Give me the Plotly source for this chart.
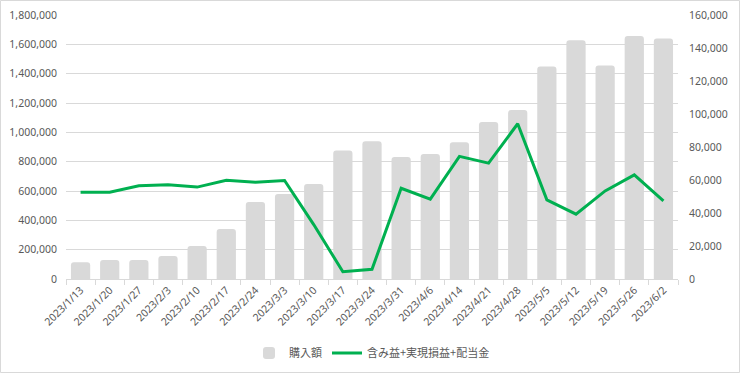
import plotly.graph_objects as go

dates = ["2023/1/13", "2023/1/20", "2023/1/27", "2023/2/3", "2023/2/10", "2023/2/17",
         "2023/2/24", "2023/3/3", "2023/3/10", "2023/3/17", "2023/3/24", "2023/3/31",
         "2023/4/6", "2023/4/14", "2023/4/21", "2023/4/28", "2023/5/5", "2023/5/12",
         "2023/5/19", "2023/5/26", "2023/6/2"]

purchase = [114000, 130000, 130000, 157000, 225000, 341000, 525000, 580000, 648000,
            876000, 940000, 831000, 853000, 933000, 1070000, 1152000, 1449000,
            1627000, 1456000, 1657000, 1640000]

profit = [52600, 52600, 56500, 57100, 55700, 59900, 58700, 59700, 33000, 4400, 5900,
          55000, 48400, 74300, 70200, 94100, 48000, 39300, 53400, 63100, 47400]

bar_name = "購入額"
line_name = "含み益+実現損益+配当金"

W, H = 740, 373
L, R, T, B = 66, 62, 15, 94
pw, ph = W - L - R, H - T - B

label_color = "#595959"
grid_color = "#d9d9d9"
tick_font = dict(family="Noto Sans, Noto Sans CJK JP", size=10.5, color=label_color)

fig = go.Figure()
fig.add_trace(go.Bar(x=dates, y=purchase, name=bar_name,
                     marker=dict(color="#d9d9d9", line=dict(width=0), cornerradius=3),
                     yaxis="y"))
fig.add_trace(go.Scatter(x=dates, y=profit, name=line_name, mode="lines",
                         line=dict(color="#00b050", width=3), yaxis="y2"))

fig.update_layout(
    width=W, height=H,
    margin=dict(l=L, r=R, t=T, b=B, autoexpand=False),
    paper_bgcolor="white", plot_bgcolor="white",
    bargap=0.34,
    showlegend=True,
    legend=dict(orientation="h", x=0.5, xanchor="center",
                yref="container", y=1 - 353 / H, yanchor="middle",
                font=dict(family="Noto Sans CJK JP", size=11, color=label_color),
                traceorder="normal", itemwidth=30),
    xaxis=dict(type="category", tickangle=-45, tickfont=tick_font, automargin=False,
               showline=True, linecolor=grid_color, linewidth=1,
               ticks="outside", tickson="boundaries", ticklen=5, tickcolor=grid_color,
               showgrid=False, zeroline=False),
    yaxis=dict(range=[0, 1800000], dtick=200000, tickformat=",d", automargin=False,
               showgrid=True, gridcolor=grid_color, gridwidth=1,
               zeroline=False, showline=False, ticks="",
               tickfont=tick_font, ticklabelstandoff=8),
    yaxis2=dict(range=[0, 160000], dtick=20000, tickformat=",d", overlaying="y",
                automargin=False,
                side="right", showgrid=False, zeroline=False, showline=False,
                ticks="", tickfont=tick_font, ticklabelstandoff=10),
    shapes=[dict(type="rect", xref="paper", yref="paper",
                 x0=(0.5 - L) / pw, x1=(W - 0.5 - L) / pw,
                 y0=(T + ph - (H - 0.5)) / ph, y1=(T + ph - 0.5) / ph,
                 line=dict(color="#d9d9d9", width=1), fillcolor="rgba(0,0,0,0)",
                 layer="below")],
)

fig.write_html("out.html", config={"displayModeBar": False},
               post_script="document.body.style.margin='0';document.body.style.padding='0';")
